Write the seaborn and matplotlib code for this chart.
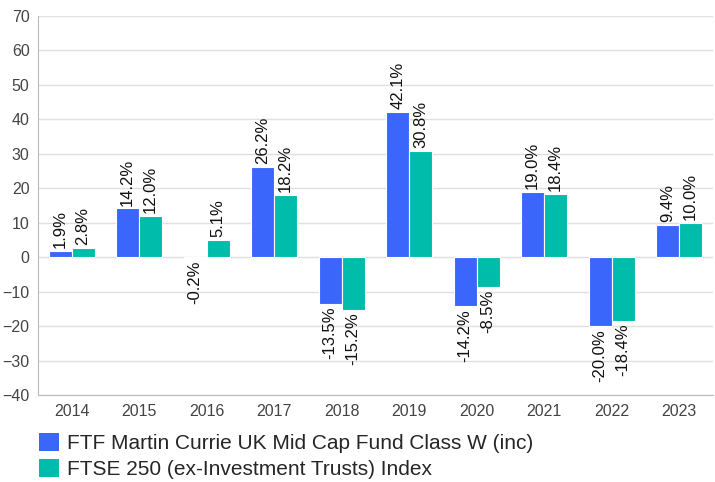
import matplotlib
matplotlib.use("Agg")
import matplotlib.pyplot as plt
import seaborn as sns
import pandas as pd
from matplotlib.patches import Patch

years = ["2014", "2015", "2016", "2017", "2018", "2019", "2020", "2021", "2022", "2023"]
fund = [1.9, 14.2, -0.2, 26.2, -13.5, 42.1, -14.2, 19.0, -20.0, 9.4]
index = [2.8, 12.0, 5.1, 18.2, -15.2, 30.8, -8.5, 18.4, -18.4, 10.0]
series_names = ["FTF Martin Currie UK Mid Cap Fund Class W (inc)",
                "FTSE 250 (ex-Investment Trusts) Index"]
colors = ["#3b66fc", "#00bcaa"]

df = pd.DataFrame({
    "year": years * 2,
    "value": fund + index,
    "series": [series_names[0]] * len(years) + [series_names[1]] * len(years),
})

sns.set_style("white")
plt.rcParams["font.family"] = ["Liberation Sans", "DejaVu Sans"]

fig = plt.figure(figsize=(7.15, 4.82), dpi=100)
ax = fig.add_axes([0.053, 0.18, 0.944, 0.787])

sns.barplot(data=df, x="year", y="value", hue="series", palette=colors,
            width=0.68, ax=ax, edgecolor="white", linewidth=0.8,
            saturation=1, legend=False)

for cont in ax.containers:
    ax.bar_label(cont, labels=[f"{v:.1f}%" for v in cont.datavalues],
                 rotation=90, padding=2, fontsize=12, color="#111111")

ax.set_ylim(-40, 70)
ax.set_yticks(range(-40, 71, 10))
ax.set_xlim(-0.5, len(years) - 0.5)
ax.yaxis.grid(True, color="#e0e0e0", linewidth=1)
ax.set_axisbelow(True)
ax.set_xlabel("")
ax.set_ylabel("")
for s in ["top", "right"]:
    ax.spines[s].set_visible(False)
ax.spines["left"].set_color("#bbbbbb")
ax.spines["bottom"].set_color("#bbbbbb")
ax.tick_params(axis="both", labelsize=11.5, labelcolor="#444444", length=0, pad=6)

handles = [Patch(facecolor=c, edgecolor="none") for c in colors]
fig.legend(handles, series_names, loc="upper left", bbox_to_anchor=(0.054, 0.102),
           frameon=False, fontsize=15, handlelength=1.0, handleheight=1.0,
           handletextpad=0.35, labelspacing=0.25, borderaxespad=0, borderpad=0)

fig.savefig("out.png", dpi=100)
